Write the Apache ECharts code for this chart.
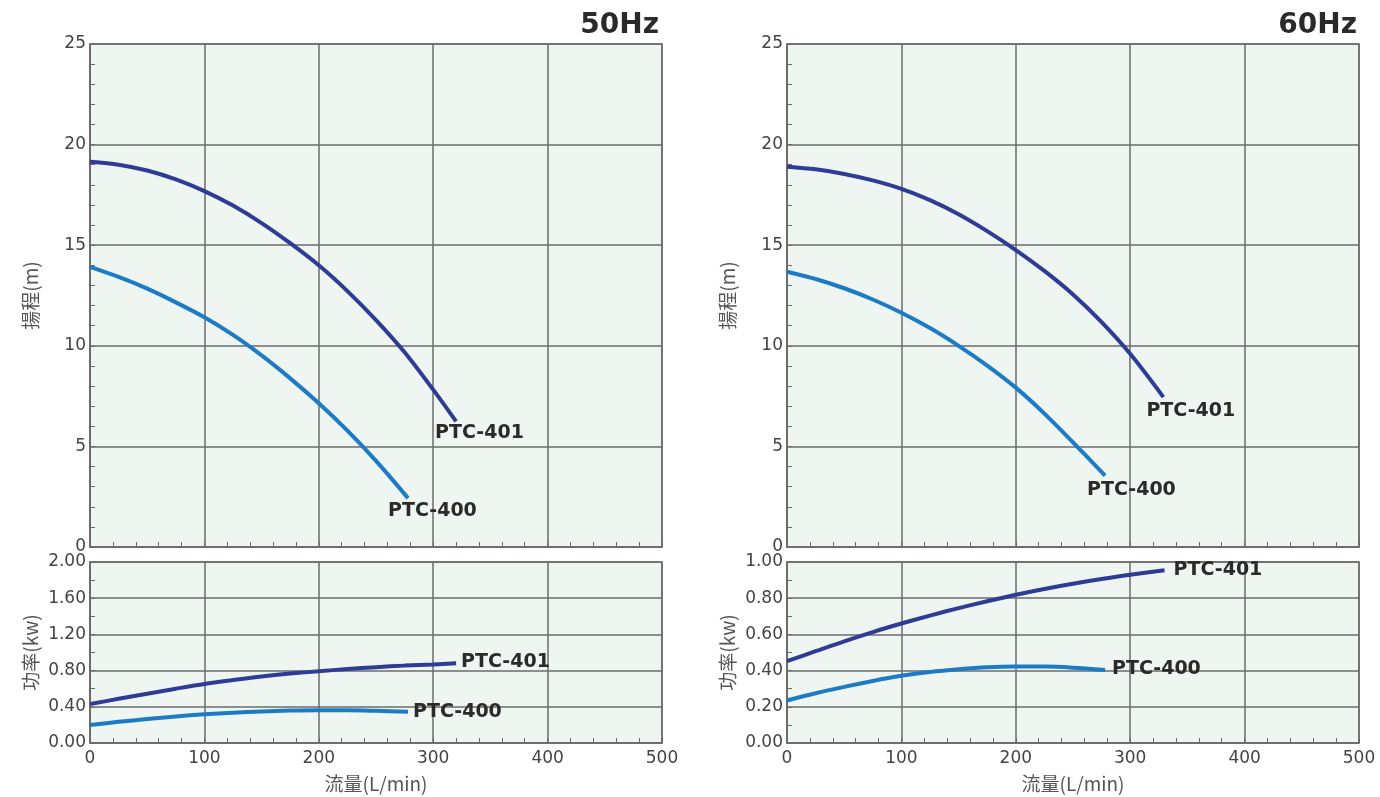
<!DOCTYPE html>
<html>
<head>
<meta charset="utf-8">
<script src="https://cdn.jsdelivr.net/npm/echarts@6/dist/echarts.min.js"></script>
<style>
  html, body { margin: 0; padding: 0; background: #fff; }
  #pumpChart { width: 1380px; height: 797px; }
</style>
</head>
<body>
<div id="pumpChart"></div>
<script>
// 流量 (L/min) sample points
var flowSteps = [0, 25, 50, 75, 100, 125, 150, 175, 200, 225, 250, 275, 300];
// 50Hz 揚程
var flow401_50 = flowSteps.concat([320]);
var head401_50 = [19.15, 19.0, 18.71, 18.27, 17.69, 16.97, 16.1, 15.1, 14.0, 12.72, 11.28, 9.68, 7.82, 6.24];
var flow400_50 = [0, 25, 50, 75, 100, 125, 150, 175, 200, 225, 250, 278];
var head400_50 = [13.92, 13.42, 12.84, 12.16, 11.42, 10.54, 9.52, 8.38, 7.14, 5.78, 4.28, 2.43];
// 50Hz 功率
var pflow401_50 = flowSteps.concat([320]);
var power401_50 = [0.43, 0.488, 0.545, 0.6, 0.652, 0.695, 0.735, 0.767, 0.793, 0.817, 0.838, 0.855, 0.867, 0.88];
var pflow400_50 = [0, 25, 50, 75, 100, 125, 150, 175, 200, 225, 250, 278];
var power400_50 = [0.2, 0.234, 0.265, 0.293, 0.317, 0.335, 0.349, 0.358, 0.362, 0.362, 0.356, 0.346];
// 60Hz 揚程
var flow401_60 = flowSteps.concat([329]);
var head401_60 = [18.9, 18.77, 18.54, 18.22, 17.8, 17.24, 16.54, 15.7, 14.76, 13.72, 12.55, 11.18, 9.6, 7.45];
var flow400_60 = [0, 25, 50, 75, 100, 125, 150, 175, 200, 225, 250, 278];
var head400_60 = [13.68, 13.32, 12.86, 12.3, 11.64, 10.88, 10.0, 9.02, 7.92, 6.63, 5.2, 3.55];
// 60Hz 功率
var pflow401_60 = flowSteps.concat([330]);
var power401_60 = [0.452, 0.507, 0.562, 0.613, 0.66, 0.704, 0.745, 0.783, 0.819, 0.851, 0.88, 0.906, 0.93, 0.955];
var pflow400_60 = [0, 25, 50, 75, 100, 125, 150, 175, 200, 225, 250, 278];
var power400_60 = [0.235, 0.275, 0.31, 0.343, 0.371, 0.392, 0.407, 0.418, 0.422, 0.422, 0.416, 0.403];

var xTicks = [0, 100, 200, 300, 400, 500];
var headTicks = [0, 5, 10, 15, 20, 25];

var darkBlue = '#2e3c95';
var lightBlue = '#1c7bc4';
var gridColor = '#6b6b6b';
var labelFont = 'DejaVu Sans';

var zip = function(xs, ys){
	var out = [];
	for (var i = 0; i < xs.length; i++) { out.push([xs[i], ys[i]]); }
	return out;
};

var gridBox = function(left, top, height){
	return {
		left: left, top: top, width: 572, height: height,
		show: true, backgroundColor: '#eff6f2',
		borderColor: gridColor, borderWidth: 1.5
	};
};

var xAxisCfg = function(gridIndex, showLabel){
	return {
		gridIndex: gridIndex, type: 'value',
		min: xTicks[0], max: xTicks[xTicks.length - 1], interval: 100,
		name: showLabel ? '流量(L/min)' : '',
		nameLocation: 'middle', nameGap: 31,
		nameTextStyle: { fontFamily: 'Noto Sans CJK JP', fontSize: 19, color: '#555' },
		axisLine: { show: true, lineStyle: { color: gridColor, width: 1.5 } },
		axisTick: { show: true, inside: true, length: 5, lineStyle: { color: gridColor } },
		minorTick: { show: true, splitNumber: 5, length: 5, lineStyle: { color: gridColor } },
		axisLabel: { show: showLabel, fontFamily: labelFont, fontSize: 17, color: '#444', margin: 7 },
		splitLine: { show: true, lineStyle: { color: gridColor, width: 1.5 } }
	};
};

var yAxisCfg = function(gridIndex, name, max, interval, minorSplit, digits){
	return {
		gridIndex: gridIndex, type: 'value',
		min: 0, max: max, interval: interval,
		name: name, nameLocation: 'middle', nameGap: 50, nameRotate: 90,
		nameTextStyle: { fontFamily: 'Noto Sans CJK JP', fontSize: 19, color: '#555' },
		axisLine: { show: true, lineStyle: { color: gridColor, width: 1.5 } },
		axisTick: { show: true, inside: true, length: 5, lineStyle: { color: gridColor } },
		minorTick: { show: true, splitNumber: minorSplit, length: 5, lineStyle: { color: gridColor } },
		axisLabel: {
			fontFamily: labelFont, fontSize: 17, color: '#444', margin: 4,
			formatter: function(v){ return v.toFixed(digits); }
		},
		splitLine: { show: true, lineStyle: { color: gridColor, width: 1.5 } }
	};
};

var curve = function(idx, color, xs, ys, text, dx, dy){
	var last = xs.length - 1;
	return {
		type: 'line', xAxisIndex: idx, yAxisIndex: idx,
		data: zip(xs, ys), smooth: 0.3, showSymbol: false, symbol: 'none',
		lineStyle: { color: color, width: 4 },
		silent: true,
		markPoint: {
			symbol: 'circle', symbolSize: 0,
			itemStyle: { color: 'transparent' },
			label: {
				show: true, position: 'inside', formatter: text,
				align: 'left', verticalAlign: 'middle', offset: [dx, dy],
				fontFamily: labelFont, fontWeight: 'bold', fontSize: 19, color: '#2a2a2a'
			},
			data: [{ coord: [xs[last], ys[last]] }]
		}
	};
};

var pumpChart = echarts.init(document.getElementById('pumpChart'));
var pumpOption = {
	animation: false,
	title: [
		{ text: '50Hz', right: 716, top: 7, textStyle: { fontFamily: labelFont, fontWeight: 'bold', fontSize: 28, color: '#2a2a2a' } },
		{ text: '60Hz', right: 18, top: 7, textStyle: { fontFamily: labelFont, fontWeight: 'bold', fontSize: 28, color: '#2a2a2a' } }
	],
	grid: [
		gridBox(90, 44, 503),
		gridBox(90, 562, 181),
		gridBox(787, 44, 503),
		gridBox(787, 562, 181)
	],
	xAxis: [
		xAxisCfg(0, false),
		xAxisCfg(1, true),
		xAxisCfg(2, false),
		xAxisCfg(3, true)
	],
	yAxis: [
		yAxisCfg(0, '揚程(m)', headTicks[headTicks.length - 1], 5, 5, 0),
		yAxisCfg(1, '功率(kw)', 2, 0.4, 2, 2),
		yAxisCfg(2, '揚程(m)', headTicks[headTicks.length - 1], 5, 5, 0),
		yAxisCfg(3, '功率(kw)', 1, 0.2, 2, 2)
	],
	series: [
		curve(0, darkBlue, flow401_50, head401_50, 'PTC-401', -21, 12),
		curve(0, lightBlue, flow400_50, head400_50, 'PTC-400', -20, 13),
		curve(1, darkBlue, pflow401_50, power401_50, 'PTC-401', 5, -1),
		curve(1, lightBlue, pflow400_50, power400_50, 'PTC-400', 5, 0),
		curve(2, darkBlue, flow401_60, head401_60, 'PTC-401', -17, 14),
		curve(2, lightBlue, flow400_60, head400_60, 'PTC-400', -18, 14),
		curve(3, darkBlue, pflow401_60, power401_60, 'PTC-401', 9, 0),
		curve(3, lightBlue, pflow400_60, power400_60, 'PTC-400', 7, -1)
	]
};
pumpChart.setOption(pumpOption);
</script>
</body>
</html>
